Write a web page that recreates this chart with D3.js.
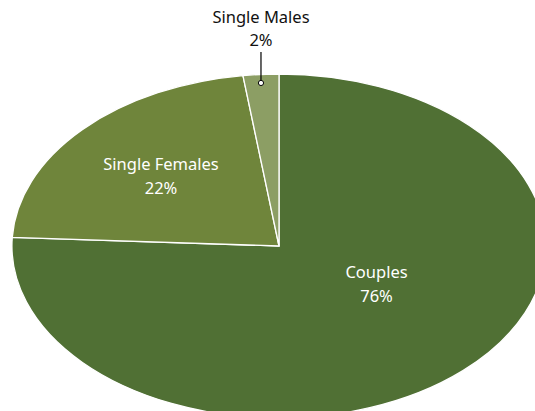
<!DOCTYPE html>
<html><head><meta charset="utf-8">
<script src="https://cdn.jsdelivr.net/npm/d3@7"></script>
<style>html,body{margin:0;padding:0;background:#fff;overflow:hidden}</style>
</head><body>
<svg id="c" width="535" height="411"></svg>
<script>
const categories = ["Couples", "Single Females", "Single Males"];
const values = [75.8, 22.05, 2.15];
const labels = ["76%", "22%", "2%"];
const colors = ["#507034", "#6f853b", "#8c9e64"];

const svg = d3.select("#c");
const cx = 279, cy = 246, rx = 267, ry = 172;
const data = categories.map((c, i) => ({cat: c, value: values[i], label: labels[i], color: colors[i]}));
const pie = d3.pie().value(d => d.value).sort(null);
const arcs = pie(data);
const arc = d3.arc().innerRadius(0).outerRadius(1);

const g = svg.append("g").attr("transform", `translate(${cx},${cy}) scale(${rx},${ry})`);
g.selectAll("path").data(arcs).join("path")
  .attr("d", arc)
  .attr("fill", d => d.data.color)
  .attr("stroke", "#fff")
  .attr("stroke-width", 1.3)
  .attr("vector-effect", "non-scaling-stroke");

const labelPos = [
  {r: 0.53, dy: -28},
  {r: 0.60, dy: 0},
  {r: 1.0, dy: 0}
];
const font = "'Noto Sans', 'Open Sans', sans-serif";
arcs.forEach((a, i) => {
  const mid = (a.startAngle + a.endAngle) / 2;
  if (i < 2) {
    const p = labelPos[i];
    const x = cx + Math.sin(mid) * p.r * rx;
    const y = cy - Math.cos(mid) * p.r * ry + p.dy;
    const t = svg.append("text").attr("x", x).attr("y", y)
      .attr("text-anchor", "middle").attr("fill", "#fff")
      .style("font-family", font).style("font-size", "16.5px");
    t.append("tspan").attr("x", x).attr("dy", "-0.35em").text(a.data.cat);
    t.append("tspan").attr("x", x).attr("dy", "1.42em").text(a.data.label);
  } else {
    const ex = cx + Math.sin(mid) * rx;
    const ey = cy - Math.cos(mid) * 0.95 * ry;
    svg.append("line").attr("x1", ex).attr("x2", ex).attr("y1", 52).attr("y2", ey)
      .attr("stroke", "#000").attr("stroke-width", 1.2);
    svg.append("circle").attr("cx", ex).attr("cy", ey).attr("r", 2.6)
      .attr("fill", "#fff").attr("stroke", "#000").attr("stroke-width", 1);
    const t = svg.append("text").attr("text-anchor", "middle").attr("fill", "#111")
      .style("font-family", font).style("font-size", "16.5px");
    t.append("tspan").attr("x", ex).attr("y", 23).text(a.data.cat);
    t.append("tspan").attr("x", ex).attr("y", 46).text(a.data.label);
  }
});
</script>
</body></html>
